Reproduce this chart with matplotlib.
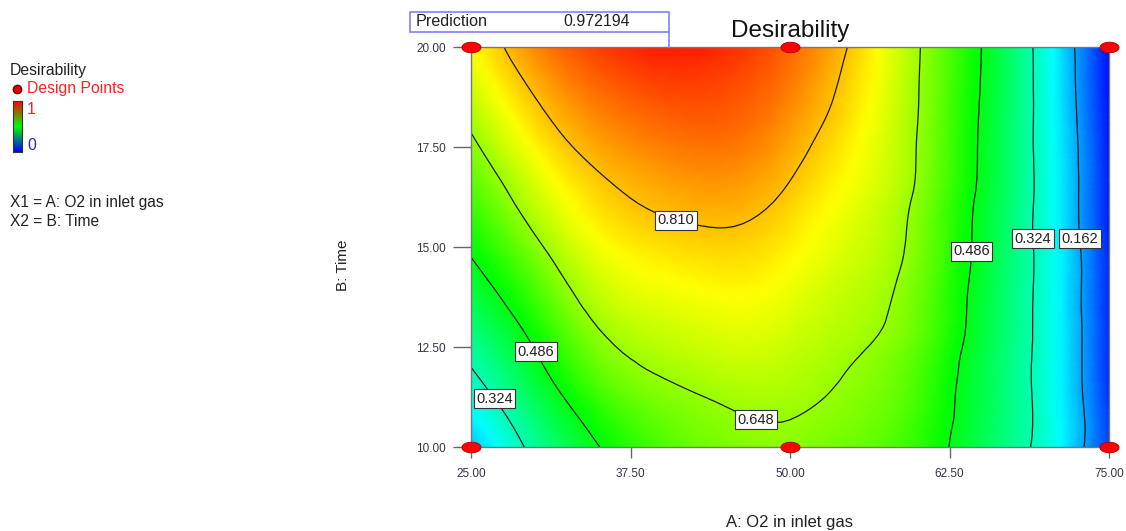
import numpy as np
import matplotlib
matplotlib.use("Agg")
import matplotlib.pyplot as plt
import matplotlib.tri as mtri
from matplotlib.colors import LinearSegmentedColormap
from matplotlib.path import Path
from matplotlib.patches import Rectangle
from matplotlib.lines import Line2D

plt.rcParams['font.family'] = ['Liberation Sans', 'DejaVu Sans']

# factor levels of the grid (A: O2 in inlet gas, B: Time)
o2_levels = [25, 30, 35, 40, 45, 50, 55, 60, 65, 70, 75]
time_levels = [10, 11.25, 12.5, 13.75, 15, 16.25, 17.5, 18.75, 20]

# desirability, one row per time level
desirability = [
    [0.19, 0.35, 0.484, 0.575, 0.618, 0.632, 0.605, 0.544, 0.42, 0.29, 0.06],
    [0.275, 0.42, 0.555, 0.625, 0.657, 0.662, 0.632, 0.565, 0.43, 0.29, 0.05],
    [0.355, 0.49, 0.625, 0.68, 0.705, 0.695, 0.657, 0.588, 0.44, 0.29, 0.045],
    [0.43, 0.56, 0.685, 0.73, 0.748, 0.728, 0.682, 0.607, 0.45, 0.29, 0.04],
    [0.50, 0.63, 0.738, 0.778, 0.792, 0.762, 0.707, 0.624, 0.46, 0.29, 0.035],
    [0.565, 0.695, 0.787, 0.826, 0.838, 0.798, 0.731, 0.636, 0.468, 0.288, 0.03],
    [0.63, 0.755, 0.836, 0.874, 0.884, 0.835, 0.755, 0.645, 0.475, 0.286, 0.022],
    [0.69, 0.81, 0.886, 0.922, 0.92, 0.87, 0.778, 0.651, 0.481, 0.283, 0.015],
    [0.745, 0.864, 0.938, 0.969, 0.956, 0.899, 0.798, 0.655, 0.486, 0.28, 0.01],
]

contour_levels = [0.162, 0.324, 0.486, 0.648, 0.810]
label_spots = [(41.2, 15.8), (47.4, 10.75), (30.2, 12.4), (26.8, 11.2),
               (63.9, 14.9), (68.65, 15.2), (72.6, 15.2)]

design_o2 = [25, 50, 75, 25, 50, 75]
design_time = [10, 10, 10, 20, 20, 20]

prediction = 0.972194
x_ticks = [25, 37.5, 50, 62.5, 75]
y_ticks = [10, 12.5, 15, 17.5, 20]

W, H = 1126, 531
fig = plt.figure(figsize=(W / 100, H / 100), dpi=100)

def fx(px):
    return px / W

def fy(py):
    return 1 - py / H

de_cmap = LinearSegmentedColormap.from_list(
    "de", ["#0000ff", "#00ffff", "#00ff00", "#ffff00", "#ff0000"])

ax = fig.add_axes([fx(471), fy(447), fx(1109) - fx(471), fy(47) - fy(447)])

# smooth the read grid with matplotlib's own triangulation refiner
gx, gy = np.meshgrid(o2_levels, time_levels)
tri = mtri.Triangulation(gx.ravel(), gy.ravel())
z = np.array(desirability).ravel()
refiner = mtri.UniformTriRefiner(tri)
interp = mtri.CubicTriInterpolator(tri, z, kind='min_E')
tri_f, z_f = refiner.refine_field(z, triinterpolator=interp, subdiv=3)

ax.tripcolor(tri_f, z_f, cmap=de_cmap, vmin=0, vmax=1, shading='gouraud')
cs = ax.tricontour(tri_f, z_f, levels=contour_levels,
                   colors='#1a1a1a', linewidths=0.9)
labels = ax.clabel(cs, fmt='%.3f', inline=False, fontsize=10.5,
                   manual=label_spots)
for t in labels:
    t.set_rotation(0)
    t.set_color('#222222')
    t.set_bbox(dict(facecolor='white', edgecolor='#333333', pad=1.8, linewidth=0.8))

# elliptical design point marker
th = np.linspace(0, 2 * np.pi, 40)
ell = Path(np.column_stack([1.8 * np.cos(th), np.sin(th)]), closed=True)
ax.scatter(design_o2, design_time, marker=ell, s=190, c='#ff0000',
           edgecolors='#aa0000', linewidths=0.6, zorder=5, clip_on=False)

ax.set_xlim(25, 75)
ax.set_ylim(10, 20)
ax.set_xticks(x_ticks)
ax.set_xticklabels(['%.2f' % v for v in x_ticks])
ax.set_yticks(y_ticks)
ax.set_yticklabels(['%.2f' % v for v in y_ticks])
ax.tick_params(axis='x', length=8, width=1, color='#666666', labelsize=8.5,
               labelcolor='#333344', pad=7)
ax.tick_params(axis='y', length=13, width=1, color='#666666', labelsize=8.5,
               labelcolor='#333344', pad=5)
for s in ax.spines.values():
    s.set_color('#777777')
    s.set_linewidth(1)

fig.text(fx(790), fy(31), 'Desirability', ha='center', va='center',
         fontsize=17.5, color='#111111')
fig.text(fx(790), fy(522), 'A: O2 in inlet gas', ha='center', va='center',
         fontsize=12, color='#222222')
fig.text(fx(343), fy(265), 'B: Time', ha='center', va='center',
         rotation=90, fontsize=11, color='#222222')

# prediction flag
fig.patches.append(Rectangle((fx(410), fy(32)), fx(669) - fx(410), fy(12) - fy(32),
                             transform=fig.transFigure, facecolor='white',
                             edgecolor='#8080ff', linewidth=1.2))
fig.lines.append(Line2D([fx(669), fx(669)], [fy(32), fy(47)],
                        transform=fig.transFigure, color='#8080ff', linewidth=1.2))
fig.text(fx(416), fy(22), 'Prediction', ha='left', va='center', fontsize=11.6,
         color='#222222')
fig.text(fx(563), fy(22), '%.6f' % prediction, ha='left', va='center',
         fontsize=11.5, color='#222222')

# left legend
fig.text(fx(10), fy(70), 'Desirability', ha='left', va='center', fontsize=11.3,
         color='#222222')
fig.lines.append(Line2D([fx(17)], [fy(89)], transform=fig.transFigure,
                        marker='o', markersize=6, color='#dd0000',
                        markeredgecolor='#660000'))
fig.text(fx(27), fy(89), 'Design Points', ha='left', va='center',
         fontsize=11.3, color='#ff2020')
leg_cmap = LinearSegmentedColormap.from_list("leg", ["#0000ff", "#00ff00", "#ff0000"])
cax = fig.add_axes([fx(13), fy(152), fx(9), fy(101) - fy(152)])
cax.imshow(np.linspace(0, 1, 100).reshape(-1, 1), origin='lower',
           cmap=leg_cmap, aspect='auto')
cax.set_xticks([])
cax.set_yticks([])
for s in cax.spines.values():
    s.set_color('#333333')
fig.text(fx(27), fy(109), '1', ha='left', va='center', fontsize=11.3,
         color='#ff2020')
fig.text(fx(27), fy(145), '0', ha='left', va='center', fontsize=11.3,
         color='#2020ff')
fig.text(fx(10), fy(203), 'X1 = A: O2 in inlet gas', ha='left', va='center',
         fontsize=11.2, color='#222222')
fig.text(fx(10), fy(222), 'X2 = B: Time', ha='left', va='center',
         fontsize=11.2, color='#222222')

fig.savefig('out.png', dpi=100)
